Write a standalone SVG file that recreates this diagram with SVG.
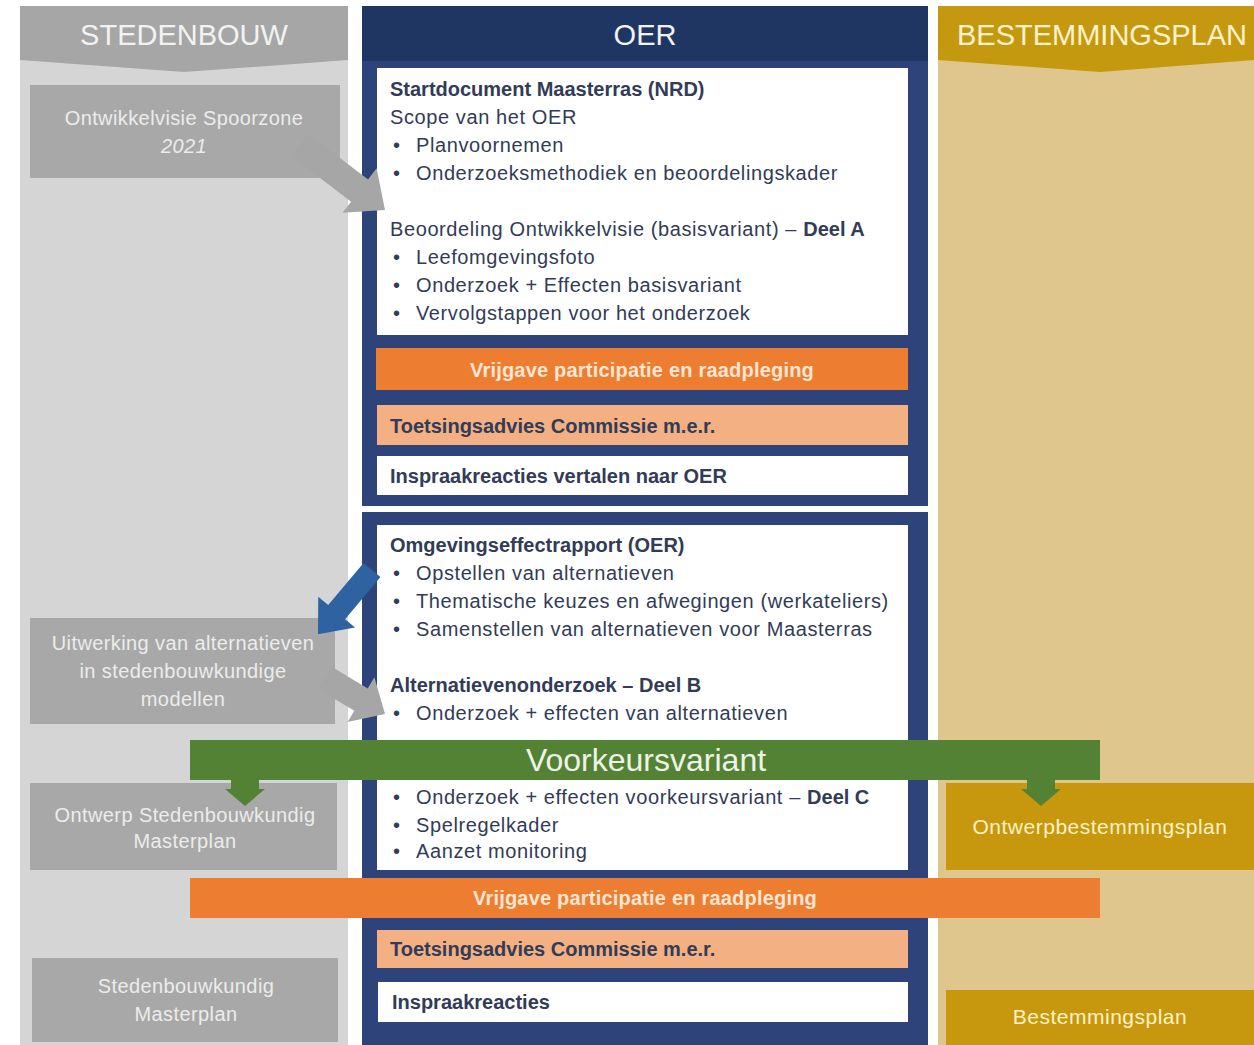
<svg xmlns="http://www.w3.org/2000/svg" width="1254" height="1045" viewBox="0 0 1254 1045">
<style>
.t{font-family:"Liberation Sans",Arial,sans-serif;font-size:20px;fill:#323b57;letter-spacing:0.6px}
.b{font-weight:bold;letter-spacing:0}
.hd{font-family:"Liberation Sans",Arial,sans-serif;font-size:29px;text-anchor:middle}
.lb{font-family:"Liberation Sans",Arial,sans-serif;font-size:20px;fill:#ececec;text-anchor:middle;letter-spacing:0.4px}
.rb{font-family:"Liberation Sans",Arial,sans-serif;font-size:21px;fill:#fff2c4;text-anchor:middle;letter-spacing:0.5px}
.or{font-family:"Liberation Sans",Arial,sans-serif;font-size:20px;font-weight:bold;fill:#fde6d2;text-anchor:middle;letter-spacing:0.2px}
.gbox{fill:#a8a8a8}
.ybox{fill:#c7980d}
.wbox{fill:#ffffff}
.pbox{fill:#f3b083}
.obar{fill:#ed7d31}
.garr{fill:#a6a6a6}
</style>
<rect x="0" y="0" width="1254" height="1045" fill="#ffffff"/>

<g id="col-stedenbouw">
<rect x="20" y="6" width="328" height="1039" fill="#d5d5d5"/>
<polygon points="20,6 348,6 348,60 184,72 20,60" fill="#a6a6a6"/>
<text class="hd" x="184" y="45" fill="#f2f2f2">STEDENBOUW</text>
</g>

<g id="col-oer">
<rect x="362" y="6" width="566" height="500" fill="#2d4379"/>
<rect x="362" y="6" width="566" height="55" fill="#1f3663"/>
<text class="hd" x="645" y="45" fill="#f2f2f2">OER</text>
<rect x="362" y="512" width="566" height="533" fill="#2d4379"/>
</g>

<g id="col-bestemmingsplan">
<rect x="938" y="6" width="316" height="1039" fill="#dfc68d"/>
<polygon points="938,6 1254,6 1254,60 1100,72 938,60" fill="#c5990f"/>
<text class="hd" x="1102" y="45" fill="#fff2cc">BESTEMMINGSPLAN</text>
</g>

<g id="n-ontwikkelvisie">
<rect class="gbox" x="30" y="85" width="310" height="93"/>
<text class="lb" x="184" y="125">Ontwikkelvisie Spoorzone</text>
<text class="lb" x="184" y="153" font-style="italic">2021</text>
</g>

<g id="n-uitwerking">
<rect class="gbox" x="30" y="618" width="305" height="106"/>
<text class="lb" x="183" y="650">Uitwerking van alternatieven</text>
<text class="lb" x="183" y="678">in stedenbouwkundige</text>
<text class="lb" x="183" y="706">modellen</text>
</g>

<g id="n-ontwerp-masterplan">
<rect class="gbox" x="30" y="783" width="307" height="87"/>
<text class="lb" x="185" y="822">Ontwerp Stedenbouwkundig</text>
<text class="lb" x="185" y="848">Masterplan</text>
</g>

<g id="n-masterplan">
<rect class="gbox" x="32" y="958" width="306" height="84"/>
<text class="lb" x="186" y="993">Stedenbouwkundig</text>
<text class="lb" x="186" y="1021">Masterplan</text>
</g>

<g id="n-ontwerpbestemmingsplan">
<rect class="ybox" x="946" y="783" width="308" height="87"/>
<text class="rb" x="1100" y="834">Ontwerpbestemmingsplan</text>
</g>

<g id="n-bestemmingsplan">
<rect class="ybox" x="946" y="990" width="308" height="55"/>
<text class="rb" x="1100" y="1024">Bestemmingsplan</text>
</g>

<g id="n-startdocument">
<rect class="wbox" x="377" y="68" width="531" height="267"/>
<text class="t b" x="390" y="96">Startdocument Maasterras (NRD)</text>
<text class="t" x="390" y="124">Scope van het OER</text>
<text class="t" x="393" y="152">•</text><text class="t" x="416" y="152">Planvoornemen</text>
<text class="t" x="393" y="180">•</text><text class="t" x="416" y="180">Onderzoeksmethodiek en beoordelingskader</text>
<text class="t" x="390" y="236">Beoordeling Ontwikkelvisie (basisvariant) – <tspan class="b">Deel A</tspan></text>
<text class="t" x="393" y="264">•</text><text class="t" x="416" y="264">Leefomgevingsfoto</text>
<text class="t" x="393" y="292">•</text><text class="t" x="416" y="292">Onderzoek + Effecten basisvariant</text>
<text class="t" x="393" y="320">•</text><text class="t" x="416" y="320">Vervolgstappen voor het onderzoek</text>
</g>

<g id="n-vrijgave-1">
<rect class="obar" x="376" y="348" width="532" height="42"/>
<text class="or" x="642" y="377">Vrijgave participatie en raadpleging</text>
</g>

<g id="n-toetsing-1">
<rect class="pbox" x="377" y="405" width="531" height="40"/>
<text class="t b" x="390" y="433">Toetsingsadvies Commissie m.e.r.</text>
</g>

<g id="n-inspraak-1">
<rect class="wbox" x="377" y="456" width="531" height="39"/>
<text class="t b" x="390" y="483">Inspraakreacties vertalen naar OER</text>
</g>

<g id="n-oer-rapport">
<rect class="wbox" x="377" y="525" width="531" height="345"/>
<text class="t b" x="390" y="552">Omgevingseffectrapport (OER)</text>
<text class="t" x="393" y="580">•</text><text class="t" x="416" y="580">Opstellen van alternatieven</text>
<text class="t" x="393" y="608">•</text><text class="t" x="416" y="608">Thematische keuzes en afwegingen (werkateliers)</text>
<text class="t" x="393" y="636">•</text><text class="t" x="416" y="636">Samenstellen van alternatieven voor Maasterras</text>
<text class="t b" x="390" y="692">Alternatievenonderzoek – Deel B</text>
<text class="t" x="393" y="720">•</text><text class="t" x="416" y="720">Onderzoek + effecten van alternatieven</text>
<text class="t" x="393" y="804">•</text><text class="t" x="416" y="804">Onderzoek + effecten voorkeursvariant – <tspan class="b">Deel C</tspan></text>
<text class="t" x="393" y="832">•</text><text class="t" x="416" y="832">Spelregelkader</text>
<text class="t" x="393" y="858">•</text><text class="t" x="416" y="858">Aanzet monitoring</text>
</g>

<g id="n-toetsing-2">
<rect class="pbox" x="377" y="930" width="531" height="38"/>
<text class="t b" x="390" y="956">Toetsingsadvies Commissie m.e.r.</text>
</g>

<g id="n-inspraak-2">
<rect class="wbox" x="378" y="982" width="530" height="40"/>
<text class="t b" x="392" y="1009">Inspraakreacties</text>
</g>

<g id="connectors">
<path class="garr" transform="translate(300,145) rotate(37.4)" d="M0,-14 L75,-14 L75,-28 L107,0 L75,28 L75,14 L0,14 Z"/>
<path fill="#2e62a0" transform="translate(372,570) rotate(130)" d="M0,-11 L55,-11 L55,-24 L84,0 L55,24 L55,11 L0,11 Z"/>
<path class="garr" transform="translate(325,678) rotate(31)" d="M0,-13 L42,-13 L42,-26 L70,0 L42,26 L42,13 L0,13 Z"/>
</g>

<g id="n-voorkeursvariant">
<rect x="190" y="740" width="910" height="40" fill="#548235"/>
<text x="646" y="771" font-family="'Liberation Sans',Arial,sans-serif" font-size="32" fill="#eef3e8" text-anchor="middle">Voorkeursvariant</text>
<polygon points="231,779 259,779 259,789 265,789 245,806 225,789 231,789" fill="#548235"/>
<polygon points="1027,779 1055,779 1055,789 1061,789 1041,806 1021,789 1027,789" fill="#548235"/>
</g>

<g id="n-vrijgave-2">
<rect class="obar" x="190" y="878" width="910" height="40"/>
<text class="or" x="645" y="905">Vrijgave participatie en raadpleging</text>
</g>
</svg>
